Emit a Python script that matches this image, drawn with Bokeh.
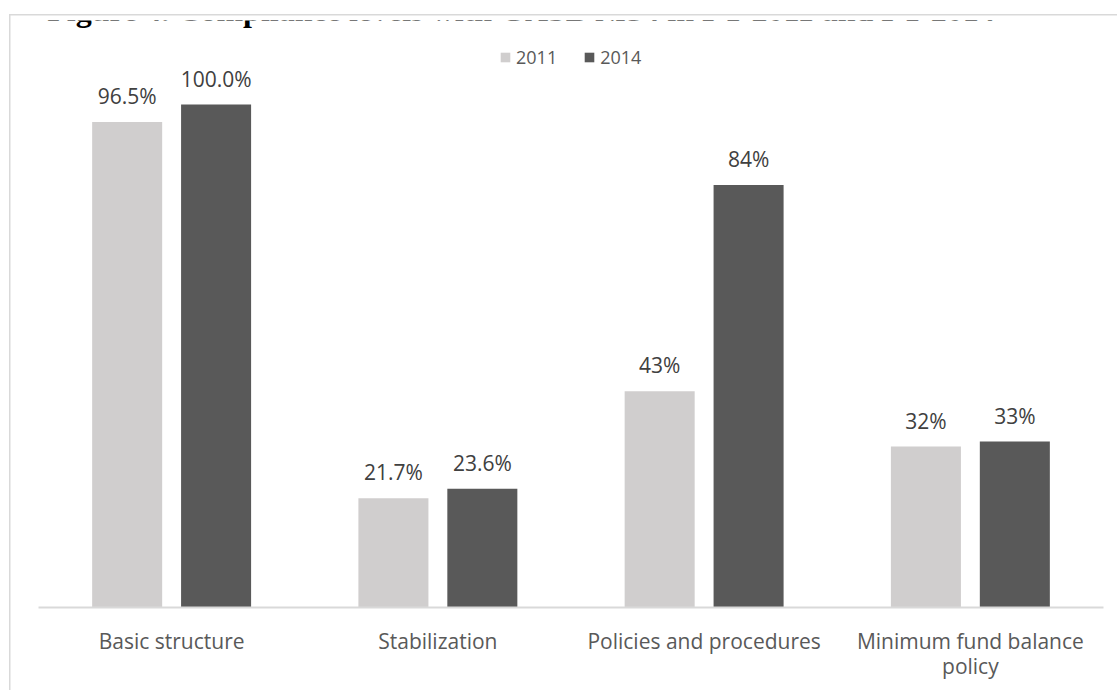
from bokeh.plotting import figure
from bokeh.models import ColumnDataSource, Range1d, FactorRange, Label
from bokeh.transform import dodge
from bokeh.core.properties import value
from bokeh.embed import file_html
from bokeh.resources import INLINE

# ---- data ----
categories = ["Basic structure", "Stabilization", "Policies and procedures",
              "Minimum fund balance\npolicy"]
values_2011 = [0.965, 0.217, 0.43, 0.32]
values_2014 = [1.0, 0.236, 0.84, 0.33]
labels_2011 = ["96.5%", "21.7%", "43%", "32%"]
labels_2014 = ["100.0%", "23.6%", "84%", "33%"]
series_names = ["2011", "2014"]
title_text = "Figure 4. Compliance levels with GASB \u211654 in FY 2011 and FY 2014"

src = ColumnDataSource(dict(cat=categories, v11=values_2011, v14=values_2014,
                            l11=labels_2011, l14=labels_2014))

W, H = 1117, 690
FONT = "Open Sans"
C11 = "#D0CECE"
C14 = "#595959"
BORDER = "#D9D9D9"

p = figure(width=W, height=H, output_backend="svg", toolbar_location=None,
           x_range=FactorRange(*categories, range_padding=0),
           y_range=Range1d(0, 1.167),
           min_border_left=38, min_border_right=14, min_border_top=20, min_border_bottom=83)
p.margin = (0, 0, 0, 0)
p.outline_line_color = None
p.background_fill_alpha = 0
p.border_fill_alpha = 0
# chart-area border (only its top and left edges are in view in the reference)
p.styles = {
    "background": (f"linear-gradient({BORDER},{BORDER}) 9px 14px / 1.5px 2000px no-repeat, "
                   f"linear-gradient({BORDER},{BORDER}) 9px 14px / 2000px 1.5px no-repeat, white")
}
p.xgrid.visible = False
p.ygrid.visible = False
p.yaxis.visible = False

off = 0.167
bw = 0.263
p.vbar(x=dodge("cat", -off, range=p.x_range), top="v11", width=bw, source=src,
       fill_color=C11, line_color=None, legend_label=series_names[0])
p.vbar(x=dodge("cat", off, range=p.x_range), top="v14", width=bw, source=src,
       fill_color=C14, line_color=None, legend_label=series_names[1])

for col, lab, o in (("v11", "l11", -off), ("v14", "l14", off)):
    p.text(x=dodge("cat", o, range=p.x_range), y=col, text=lab, source=src,
           text_align="center", text_baseline="alphabetic", y_offset=-26,
           text_font=value(FONT), text_font_size="21px", text_color="#404040")

ax = p.xaxis[0]
ax.axis_line_color = BORDER
ax.axis_line_width = 2
ax.major_tick_line_color = None
ax.minor_tick_line_color = None
ax.major_label_text_font = FONT
ax.major_label_text_font_size = "21px"
ax.major_label_text_color = "#595959"
ax.major_label_text_line_height = 0.9
ax.major_label_standoff = 13

lg = p.legend[0]
lg.orientation = "horizontal"
lg.location = (461, 538)
lg.margin = 0
lg.padding = 0
lg.spacing = 26
lg.glyph_width = 12
lg.glyph_height = 12
lg.label_standoff = 5
lg.label_height = 20
lg.label_text_font = FONT
lg.label_text_font_size = "18px"
lg.label_text_color = "#595959"
lg.border_line_color = None
lg.background_fill_alpha = 0

p.add_layout(Label(x=0.033, y=1.187, text=title_text, text_font="Liberation Serif",
                   text_font_style="bold", text_font_size="32px", text_color="black",
                   text_baseline="alphabetic"))

open("out.html", "w").write(file_html(p, INLINE))
